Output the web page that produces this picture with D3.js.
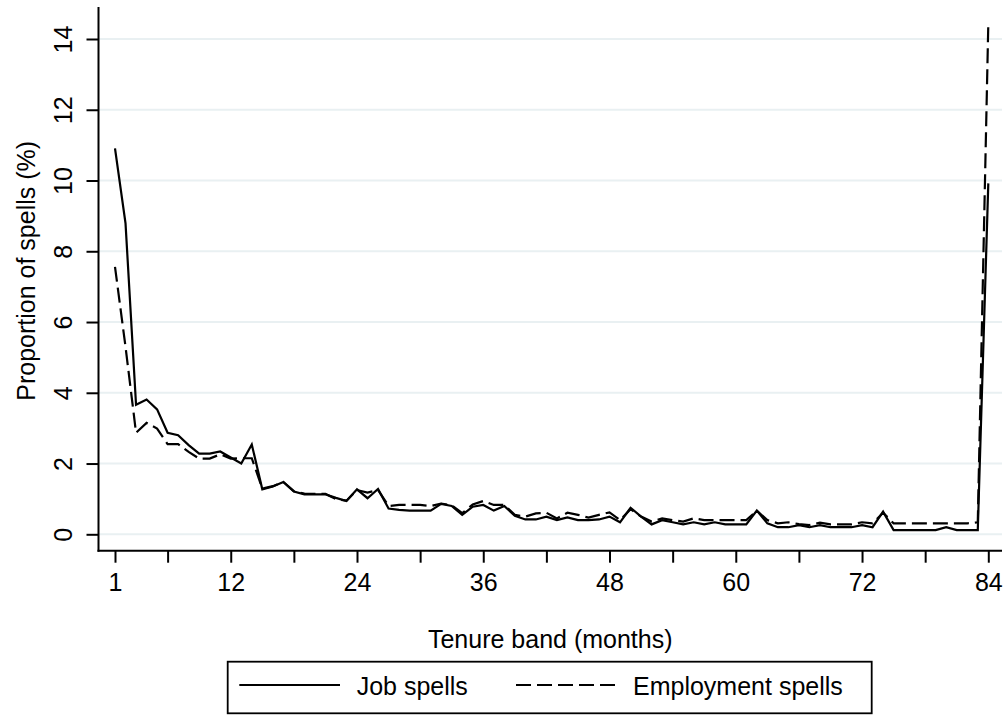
<!DOCTYPE html>
<html>
<head>
<meta charset="utf-8">
<script src="https://cdn.jsdelivr.net/npm/d3@7"></script>
<style>
  html, body { margin: 0; padding: 0; background: #fff; }
  svg { display: block; }
  text { font-family: "Liberation Sans", Arial, Helvetica, sans-serif; fill: #000; }
</style>
</head>
<body>
<svg id="chart" width="1006" height="715"></svg>
<script>
// ---- data ----
const months = d3.range(1, 85);
const jobSpells = [
  10.91, 8.79, 3.66, 3.81, 3.53, 2.87, 2.80, 2.52, 2.28, 2.28,
  2.34, 2.17, 2.00, 2.54, 1.27, 1.35, 1.48, 1.21, 1.13, 1.13,
  1.13, 1.03, 0.94, 1.27, 1.02, 1.28, 0.73, 0.69, 0.67, 0.67,
  0.67, 0.86, 0.80, 0.55, 0.78, 0.83, 0.67, 0.80, 0.52, 0.42,
  0.42, 0.50, 0.40, 0.48, 0.40, 0.40, 0.42, 0.50, 0.34, 0.75,
  0.50, 0.28, 0.40, 0.34, 0.28, 0.34, 0.28, 0.34, 0.28, 0.28,
  0.28, 0.67, 0.31, 0.20, 0.20, 0.26, 0.20, 0.26, 0.20, 0.20,
  0.20, 0.26, 0.20, 0.64, 0.12, 0.12, 0.12, 0.12, 0.12, 0.20,
  0.12, 0.12, 0.12, 9.92
];
const employmentSpells = [
  7.56, 5.30, 2.87, 3.15, 2.99, 2.55, 2.55, 2.33, 2.14, 2.14,
  2.26, 2.14, 2.15, 2.15, 1.29, 1.36, 1.48, 1.22, 1.15, 1.14,
  1.14, 1.00, 0.95, 1.25, 1.18, 1.25, 0.80, 0.83, 0.83, 0.83,
  0.80, 0.87, 0.82, 0.60, 0.84, 0.94, 0.83, 0.83, 0.55, 0.50,
  0.59, 0.61, 0.45, 0.61, 0.55, 0.47, 0.55, 0.62, 0.40, 0.71,
  0.50, 0.36, 0.45, 0.40, 0.36, 0.45, 0.40, 0.40, 0.40, 0.40,
  0.40, 0.67, 0.40, 0.31, 0.34, 0.29, 0.26, 0.33, 0.28, 0.28,
  0.28, 0.34, 0.31, 0.61, 0.31, 0.31, 0.31, 0.31, 0.31, 0.31,
  0.31, 0.31, 0.34, 14.42
];
const xTicks = [1, 6, 12, 18, 24, 30, 36, 42, 48, 54, 60, 66, 72, 78, 84];
const xTickLabels = [1, 12, 24, 36, 48, 60, 72, 84];
const yTicks = [0, 2, 4, 6, 8, 10, 12, 14];
const seriesNames = ["Job spells", "Employment spells"];
const xTitle = "Tenure band (months)";
const yTitle = "Proportion of spells (%)";

// ---- layout ----
const svg = d3.select("#chart");
const plotLeft = 98.5, plotRight = 1002, plotTop = 7, plotBottom = 550.7;
const x = d3.scaleLinear().domain([1, 84]).range([115, 988.3]);
const y = d3.scaleLinear().domain([0, 14]).range([534.3, 39]);
const fontSize = 25;
const gridColor = "#e9f0f2";

// gridlines
svg.append("g").selectAll("line").data(yTicks).join("line")
  .attr("x1", plotLeft).attr("x2", plotRight)
  .attr("y1", d => y(d)).attr("y2", d => y(d))
  .attr("stroke", gridColor).attr("stroke-width", 2);

// x axis
const xAxis = d3.axisBottom(x).tickValues(xTicks).tickSize(12)
  .tickFormat(d => xTickLabels.includes(d) ? String(d) : "");
const gx = svg.append("g").attr("transform", `translate(0,${plotBottom})`).call(xAxis);
gx.select(".domain").remove();
gx.selectAll(".tick line").attr("stroke", "#000").attr("stroke-width", 2);
gx.selectAll(".tick text").attr("font-size", fontSize).attr("y", 40).attr("dy", 0)
  .style("font-family", '"Liberation Sans", Arial, sans-serif');
svg.append("line").attr("x1", plotLeft - 1).attr("x2", plotRight)
  .attr("y1", plotBottom).attr("y2", plotBottom)
  .attr("stroke", "#000").attr("stroke-width", 2);

// y axis
const yAxis = d3.axisLeft(y).tickValues(yTicks).tickSize(12).tickFormat(d3.format("d"));
const gy = svg.append("g").attr("transform", `translate(${plotLeft},0)`).call(yAxis);
gy.select(".domain").remove();
gy.selectAll(".tick line").attr("stroke", "#000").attr("stroke-width", 2);
gy.selectAll(".tick text")
  .attr("font-size", fontSize)
  .attr("x", 0).attr("dy", 0)
  .attr("text-anchor", "middle")
  .attr("transform", "translate(-26.5,0) rotate(-90)")
  .style("font-family", '"Liberation Sans", Arial, sans-serif');
svg.append("line").attr("x1", plotLeft).attr("x2", plotLeft)
  .attr("y1", plotTop).attr("y2", plotBottom + 1)
  .attr("stroke", "#000").attr("stroke-width", 2);

// series lines
const line = d3.line().x((d, i) => x(months[i])).y(d => y(d));
svg.append("path").datum(jobSpells).attr("d", line)
  .attr("fill", "none").attr("stroke", "#000").attr("stroke-width", 2.2);
svg.append("path").datum(employmentSpells).attr("d", line)
  .attr("fill", "none").attr("stroke", "#000").attr("stroke-width", 2.2)
  .attr("stroke-dasharray", "15,6");

// axis titles
svg.append("text").attr("x", (plotLeft + plotRight) / 2).attr("y", 648)
  .attr("text-anchor", "middle").attr("font-size", fontSize).text(xTitle);
svg.append("text").attr("transform", `translate(35,${(plotTop + plotBottom) / 2 - 8}) rotate(-90)`)
  .attr("text-anchor", "middle").attr("font-size", fontSize).text(yTitle);

// legend
const lg = svg.append("g");
lg.append("rect").attr("x", 227.7).attr("y", 661.7).attr("width", 644).attr("height", 51.6)
  .attr("fill", "#fff").attr("stroke", "#000").attr("stroke-width", 1.8);
lg.append("line").attr("x1", 239.3).attr("x2", 340).attr("y1", 685).attr("y2", 685)
  .attr("stroke", "#000").attr("stroke-width", 2.2);
lg.append("text").attr("x", 356.7).attr("y", 695).attr("font-size", fontSize).text(seriesNames[0]);
lg.append("line").attr("x1", 516).attr("x2", 616).attr("y1", 685).attr("y2", 685)
  .attr("stroke", "#000").attr("stroke-width", 2.2).attr("stroke-dasharray", "15,6");
lg.append("text").attr("x", 633).attr("y", 695).attr("font-size", fontSize).text(seriesNames[1]);
</script>
</body>
</html>
